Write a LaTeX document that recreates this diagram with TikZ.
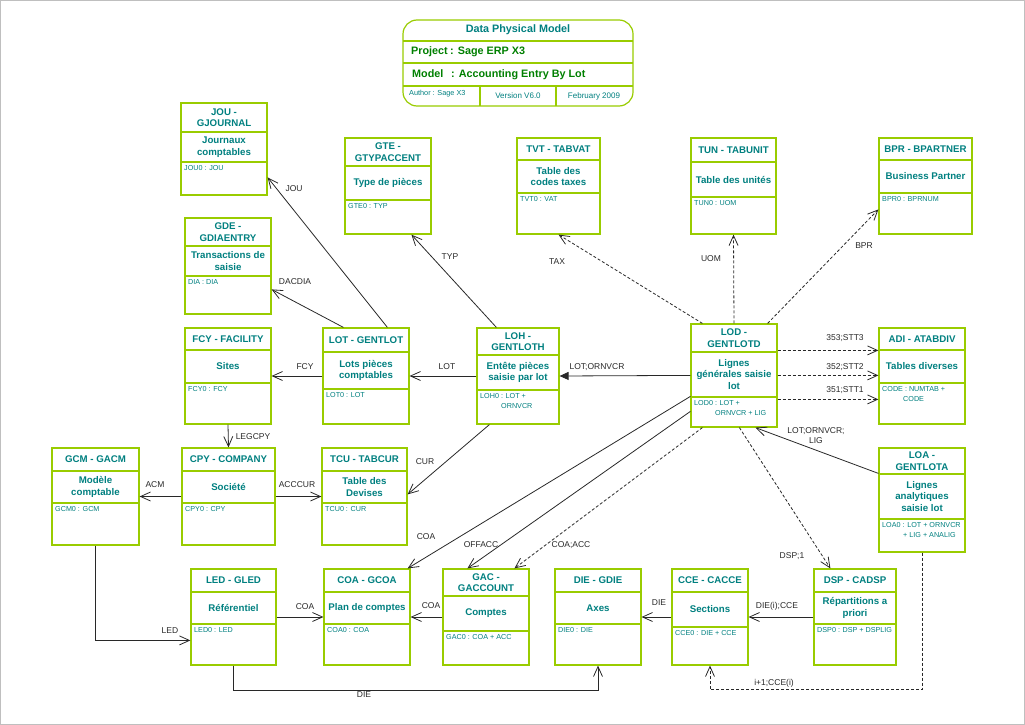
\documentclass[tikz,border=0pt]{standalone}
\usepackage{fontspec}
\setmainfont{Liberation Sans}
\usetikzlibrary{arrows.meta,calc}
\definecolor{entgreen}{RGB}{153,204,0}
\definecolor{entteal}{RGB}{0,128,128}
\definecolor{prjgreen}{RGB}{0,128,0}
\definecolor{lnkgray}{RGB}{40,40,40}
\tikzset{
	entbox/.style={draw=entgreen, line width=1.2pt, fill=white, inner sep=0pt},
	entline/.style={draw=entgreen, line width=1.2pt},
	enthd/.style={font=\bfseries\fontsize{9.7}{11.4}\selectfont, text=entteal, align=center, inner sep=0pt},
	entky/.style={font=\fontsize{7.2}{9.5}\selectfont, text=entteal, align=left, inner sep=0pt, anchor=north west},
	ttl/.style={font=\bfseries\fontsize{10.8}{12}\selectfont, inner sep=0pt},
	ttlsmall/.style={font=\fontsize{8}{9}\selectfont, text=entteal, inner sep=0pt},
	lnk/.style={draw=lnkgray, line width=0.8pt, -{Straight Barb[length=10pt,width=9pt]}},
	lnkf/.style={draw=lnkgray, line width=0.8pt, -{Triangle[length=9pt,width=8pt]}},
	dlnk/.style={lnk, dash pattern=on 3pt off 2pt},
	lbl/.style={font=\fontsize{8.5}{10}\selectfont, text=lnkgray, inner sep=0pt, align=center}
}

\begin{document}
\begin{tikzpicture}[x=1pt,y=-1pt]
\useasboundingbox (0,0) rectangle (1025,725);
\draw[gray!50] (0.5,0.5) rectangle (1024.5,724.5);

% title block
\node[entbox, rounded corners=14pt, minimum width=230pt, minimum height=86pt] (title) at (518,63) {};
\draw[entline] (403,41) -- (633,41) (403,63) -- (633,63) (403,86) -- (633,86)
	(480,86) -- (480,106) (556,86) -- (556,106);
\node[ttl, text=entteal] (title-hd) at (518,30) {Data Physical Model};
\node[ttl, text=prjgreen, anchor=west] (title-prj) at (411,52) {\makebox[39pt][l]{Project}: Sage ERP X3};
\node[ttl, text=prjgreen, anchor=west] (title-mdl) at (412,75) {\makebox[39pt][l]{Model}: Accounting Entry By Lot};
\node[ttlsmall, font=\fontsize{7.3}{9}\selectfont, anchor=west] (title-aut) at (409,94) {Author : Sage X3};
\node[ttlsmall] (title-ver) at (518,96) {Version V6.0};
\node[ttlsmall] (title-dat) at (594,96) {February 2009};

% tables: name/x1/y1/x2/y2/header line/body line/header/body/key
\foreach \nm/\xa/\ya/\xb/\yb/\hy/\by/\hd/\bd/\ky in {
	jou/181/103/267/195/132/162/{JOU -\\GJOURNAL}/{Journaux\\comptables}/{JOU0 : JOU},
	gde/185/218/271/314/246/276/{GDE -\\GDIAENTRY}/{Transactions de\\saisie}/{DIA : DIA},
	gte/345/138/431/234/166/200/{GTE -\\GTYPACCENT}/{Type de pièces}/{GTE0 : TYP},
	tvt/517/138/600/234/160/193/{TVT - TABVAT}/{Table des\\codes taxes}/{TVT0 : VAT},
	tun/691/138/776/234/162/197/{TUN - TABUNIT}/{Table des unités}/{TUN0 : UOM},
	bpr/879/138/972/234/160/193/{BPR - BPARTNER}/{Business Partner}/{BPR0 : BPRNUM},
	fcy/185/328/271/424/350/383/{FCY - FACILITY}/{Sites}/{FCY0 : FCY},
	lot/323/328/409/424/352/389/{LOT - GENTLOT}/{Lots pièces\\comptables}/{LOT0 : LOT},
	loh/477/328/559/424/355/390/{LOH -\\GENTLOTH}/{Entête pièces\\saisie par lot}/{LOH0 : LOT +\\\hspace*{21pt}ORNVCR},
	lod/691/324/777/427/352/397/{LOD -\\GENTLOTD}/{Lignes\\générales saisie\\lot}/{LOD0 : LOT +\\\hspace*{21pt}ORNVCR + LIG},
	adi/879/328/965/424/350/383/{ADI - ATABDIV}/{Tables diverses}/{CODE : NUMTAB +\\\hspace*{21pt}CODE},
	gcm/52/448/139/545/471/503/{GCM - GACM}/{Modèle\\comptable}/{GCM0 : GCM},
	cpy/182/448/275/545/471/503/{CPY - COMPANY}/{Société}/{CPY0 : CPY},
	tcu/322/448/407/545/471/503/{TCU - TABCUR}/{Table des\\Devises}/{TCU0 : CUR},
	loa/879/448/965/552/474/519/{LOA -\\GENTLOTA}/{Lignes\\analytiques\\saisie lot}/{LOA0 : LOT + ORNVCR\\\hspace*{21pt}+ LIG + ANALIG},
	led/191/569/276/665/592/624/{LED - GLED}/{Référentiel}/{LED0 : LED},
	coa/324/569/410/665/592/624/{COA - GCOA}/{Plan de comptes}/{COA0 : COA},
	gac/443/569/529/665/596/631/{GAC -\\GACCOUNT}/{Comptes}/{GAC0 : COA + ACC},
	die/555/569/641/665/592/624/{DIE - GDIE}/{Axes}/{DIE0 : DIE},
	cce/672/569/748/665/592/627/{CCE - CACCE}/{Sections}/{CCE0 : DIE + CCE},
	dsp/814/569/896/665/592/624/{DSP - CADSP}/{Répartitions a\\priori}/{DSP0 : DSP + DSPLIG}}
{
	\node[entbox, minimum width={(\xb-\xa)*1pt}, minimum height={(\yb-\ya)*1pt}] (\nm) at ({(\xa+\xb)/2},{(\ya+\yb)/2}) {};
	\draw[entline] (\xa,\hy) -- (\xb,\hy) (\xa,\by) -- (\xb,\by);
	\node[enthd] (\nm-hd) at ({(\xa+\xb)/2},{(\ya+\hy)/2}) {\hd};
	\node[enthd] (\nm-bd) at ({(\xa+\xb)/2},{(\hy+\by)/2}) {\bd};
	\node[entky] (\nm-ky) at ({\xa+3},{\by+3.5}) {\ky};
}

% links
\draw[lnk] ($(lot.north west)+(65,0)$) -- ($(jou.north east)+(0,75)$) node[lbl] (l-jou) at (294,189) {JOU};
\draw[lnk] ($(lot.north west)+(21,0)$) -- ($(gde.north east)+(0,72)$) node[lbl] (l-dia) at (295,282) {DACDIA};
\draw[lnk] ($(loh.north west)+(20,0)$) -- ($(gte.south west)+(67,0)$) node[lbl] (l-typ) at (450,257) {TYP};
\draw[lnk] (loh.west) -- (lot.east) node[lbl] (l-lot) at (447,367) {LOT};
\draw[lnk] (lot.west) -- (fcy.east) node[lbl] (l-fcy) at (305,367) {FCY};
\draw[lnkf] ($(lod.north west)+(0,52)$) -- (loh.east) node[lbl] (l-lotorn) at (597,367) {LOT;ORNVCR};
\draw[dlnk] ($(lod.north west)+(12,0)$) -- (tvt.south) node[lbl] (l-tax) at (557,262) {TAX};
\draw[dlnk] (lod.north) -- (tun.south) node[lbl] (l-uom) at (711,259) {UOM};
\draw[dlnk] ($(lod.north east)+(-10,0)$) -- ($(bpr.north west)+(0,72)$) node[lbl] (l-bpr) at (864,246) {BPR};
\draw[dlnk] ($(lod.north east)+(0,27)$) -- ($(adi.north west)+(0,23)$) node[lbl] (l-stt3) at (845,338) {353;STT3};
\draw[dlnk] ($(lod.north east)+(0,52)$) -- ($(adi.north west)+(0,48)$) node[lbl] (l-stt2) at (845,367) {352;STT2};
\draw[dlnk] ($(lod.north east)+(0,76)$) -- ($(adi.north west)+(0,72)$) node[lbl] (l-stt1) at (845,390) {351;STT1};
\draw[lnk] ($(loa.north west)+(0,26)$) -- ($(lod.south west)+(65,0)$) node[lbl] (l-lig) at (816,436) {LOT;ORNVCR;\\LIG};
\draw[dlnk] ($(lod.south west)+(49,0)$) -- ($(dsp.north west)+(17,0)$) node[lbl] (l-dsp) at (792,556) {DSP;1};
\draw[lnk] ($(lod.north west)+(0,73)$) -- ($(coa.north east)+(-3,0)$) node[lbl] (l-coa1) at (426,537) {COA};
\draw[lnk] ($(lod.north west)+(0,88)$) -- ($(gac.north west)+(25,0)$) node[lbl] (l-off) at (481,545) {OFFACC};
\draw[dlnk] ($(lod.south west)+(12,0)$) -- ($(gac.north west)+(72,0)$) node[lbl] (l-acc) at (571,545) {COA;ACC};
\draw[lnk] ($(loh.south west)+(13,0)$) -- ($(tcu.north east)+(0,47)$) node[lbl] (l-cur) at (425,462) {CUR};
\draw[lnk] (fcy.south) -- (cpy.north) node[lbl] (l-leg) at (253,437) {LEGCPY};
\draw[lnk] (cpy.west) -- (gcm.east) node[lbl] (l-acm) at (155,485) {ACM};
\draw[lnk] (cpy.east) -- (tcu.west) node[lbl] (l-acccur) at (297,485) {ACCCUR};
\draw[lnk] (gcm.south) |- ($(led.north west)+(0,72)$) node[lbl] (l-led) at (170,631) {LED};
\draw[lnk] (led.east) -- (coa.west) node[lbl] (l-coa2) at (305,607) {COA};
\draw[lnk] (gac.west) -- (coa.east) node[lbl] (l-coa3) at (431,606) {COA};
\draw[lnk] (led.south) -- ++(0,25) -| (die.south) node[lbl] (l-die1) at (364,695) {DIE};
\draw[lnk] (cce.west) -- (die.east) node[lbl] (l-die2) at (659,603) {DIE};
\draw[lnk] (dsp.west) -- (cce.east) node[lbl] (l-diecce) at (777,606) {DIE(i);CCE};
\draw[dlnk] (loa.south) -- ++(0,137) -| (cce.south) node[lbl] (l-cce) at (774,683) {i+1;CCE(i)};
\end{tikzpicture}
\end{document}
